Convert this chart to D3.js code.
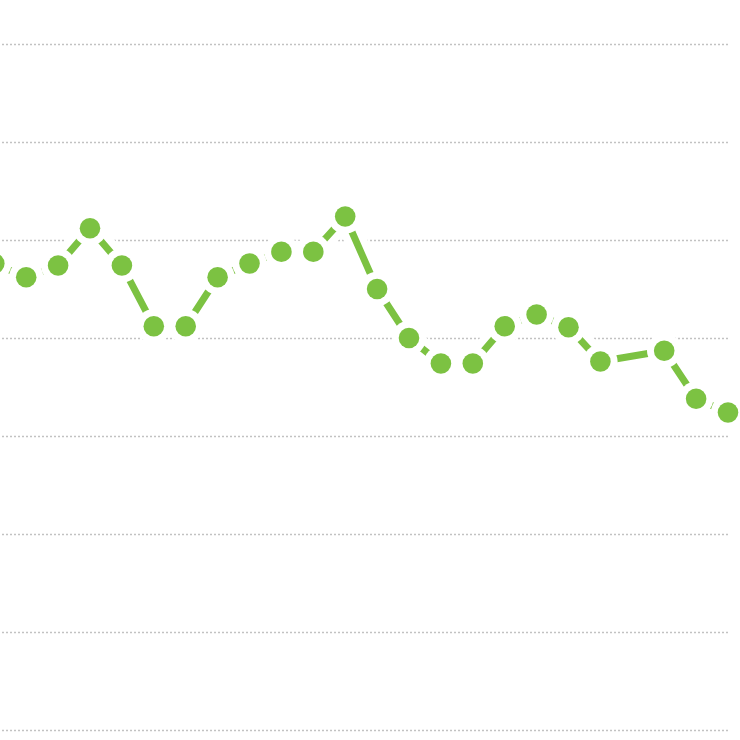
<!DOCTYPE html>
<html>
<head>
<meta charset="utf-8">
<script src="https://cdn.jsdelivr.net/npm/d3@7"></script>
<style>
  html, body { margin: 0; padding: 0; background: #ffffff; }
  svg { display: block; }
</style>
</head>
<body>
<script>
// ---- data ----
const categories = d3.range(0, 24);
const values = [47.6, 46.2, 47.4, 51.2, 47.4, 41.2, 41.2, 46.2, 47.6, 48.8, 48.8, 52.4,
                45.0, 40.0, 37.4, 37.4, 41.2, 42.4, 41.1, 37.6, null, 38.7, 33.8, 32.4];
const gridTicks = [0, 10, 20, 30, 40, 50, 60, 70];

// ---- layout ----
const W = 740, H = 740;
const svg = d3.select("body").append("svg").attr("width", W).attr("height", H);

const x = d3.scaleLinear().domain([0, 23]).range([-5.7, 728]);
const y = d3.scaleLinear().domain([0, 70]).range([730, 44]);

// gridlines
svg.append("g")
  .selectAll("line")
  .data(gridTicks)
  .join("line")
  .attr("x1", -10).attr("x2", 728)
  .attr("y1", d => y(d) + 0.5).attr("y2", d => y(d) + 0.5)
  .attr("stroke", "#c2c2c2")
  .attr("stroke-width", 1.6)
  .attr("stroke-dasharray", "2,2");

const pts = categories.map((c, i) => ({ c, v: values[i] })).filter(d => d.v != null);

const line = d3.line().x(d => x(d.c)).y(d => y(d.v));

// white halo under line
svg.append("path")
  .datum(pts)
  .attr("d", line)
  .attr("fill", "none")
  .attr("stroke", "#ffffff")
  .attr("stroke-width", 22)
  .attr("stroke-linejoin", "round")
  .attr("stroke-linecap", "round");

// green line
svg.append("path")
  .datum(pts)
  .attr("d", line)
  .attr("fill", "none")
  .attr("stroke", "#7cc242")
  .attr("stroke-width", 7)
  .attr("stroke-linejoin", "round");

// dot halos
svg.append("g")
  .selectAll("circle")
  .data(pts)
  .join("circle")
  .attr("cx", d => x(d.c)).attr("cy", d => y(d.v))
  .attr("r", 17.2)
  .attr("fill", "#ffffff");

// dots
svg.append("g")
  .selectAll("circle")
  .data(pts)
  .join("circle")
  .attr("cx", d => x(d.c)).attr("cy", d => y(d.v))
  .attr("r", 10.3)
  .attr("fill", "#7cc242");
</script>
</body>
</html>
